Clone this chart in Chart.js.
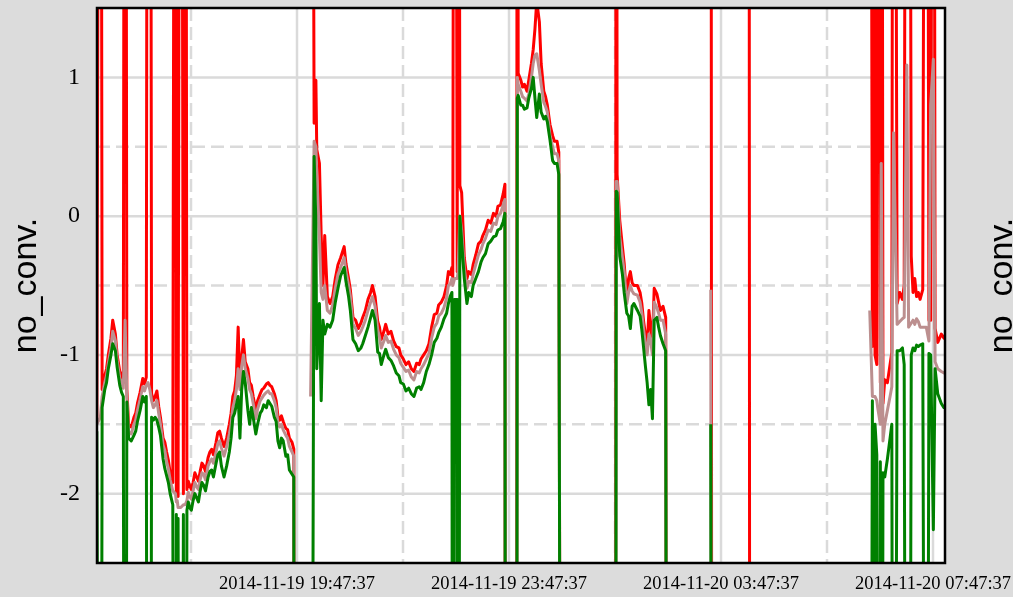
<!DOCTYPE html>
<html><head><meta charset="utf-8">
<script src="https://cdn.jsdelivr.net/npm/chart.js@4/dist/chart.umd.min.js"></script>
<style>html,body{margin:0;padding:0;background:#dcdcdc;overflow:hidden}canvas{display:block}</style>
</head><body>
<canvas id="c" width="1013" height="597"></canvas>
<script>
// minutes since 2014-11-19 16:00:00
const minutes = [
1,5,7,10,12,14,17,19,22,24, 27,29,31,33,35,37,40,43,45,47, 50,53,55,57,59,61,63,65,67,69, 71,73,76,78,80,82,84,87,90,91,
92,93,96,99,101,103,104.5,106,108,110, 112,114,116,118,120,122,124,127,129,131, 133,136,138,140,142,145,148,151,153,155,
157,159,161,163,165,167,169,172,174,176, 178,181,183,186,188,190,193,195,197,199, 202,204,206,208,210,212,215,217,219,222, 224,225,235,
243,247,249,250,253,255,257,259,262,265, 268,271,274,277,281,283,286,288,291,294, 297,300,302,305,308,311,313,316,319,321,
323,326,328,331,334,337,340,343,345,348, 351,354,357,360,363,366,368,371,374,377, 380,383,386,388,391,394,397,399,401,403,
404,406,409,410,412,414,417,420,422,425, 427,430,433,436,438,441,444,447,450,453, 455,458,461,463,464,470,
476,477,478,481,483,485,488,490,493,495, 497,499,502,504,507,509,511,514,517,519, 522,524,527,560,
588,589,590,593,596,598,601,603,605,607, 609,613,616,618,620,622,624,626,628,630, 632,635,637,639,642,645,647,680,
696,697.5,710,739,740.5,760,
850,876,879,880,882,884,885,888,889,891, 893,896,899,901,903,907,910,913,915,918, 920,923,925,927,929,931,933,936,940,943, 945,948,950,953,957,960,962
];
const upper = [
-1.48,9,-1.25,-1.15,-1.10,-1.00,-0.88,-0.75,-0.85,-1.00, -1.12,-1.14,-1.20,9,-1.25,-1.50,-1.52,-1.45,-1.42,-1.35, -1.27,-1.17,-1.21,-1.16,9,9,-1.28,-1.33,-1.30,-1.26, -1.37,-1.45,-1.60,-1.63,-1.70,-1.76,-1.85,-1.92,9,-2.00,
9,-2.02,9,-2.00,9,-1.97,-1.91,-1.94,-1.97,-1.92, -1.85,-1.88,-1.91,-1.84,-1.78,-1.80,-1.84,-1.74,-1.70,-1.68, -1.72,-1.63,-1.56,-1.55,-1.60,-1.66,-1.60,-1.50,-1.42,-1.30,
-1.26,-1.15,-0.80,-1.20,-1.02,-0.89,-1.05,-1.10,-1.20,-1.22, -1.30,-1.40,-1.33,-1.28,-1.25,-1.24,-1.21,-1.20,-1.22,-1.23, -1.28,-1.33,-1.44,-1.47,-1.44,-1.48,-1.53,-1.54,-1.60,-1.63, -1.68,-9,null,
9,0.67,0.98,0.48,0.38,-0.14,-0.50,-0.14,-0.58,-0.63, -0.58,-0.45,-0.35,-0.30,-0.22,-0.34,-0.45,-0.53,-0.73,-0.75, -0.81,-0.77,-0.73,-0.68,-0.60,-0.55,-0.50,-0.58,-0.76,-0.80,
-0.89,-0.83,-0.78,-0.85,-0.83,-0.90,-0.94,-0.95,-1.00,-1.03, -1.07,-1.05,-1.10,-1.12,-1.06,-1.07,-1.03,-1.00,-0.97,-0.92, -0.80,-0.71,-0.70,-0.64,-0.62,-0.58,-0.50,-0.40,-0.42,-0.37,
-0.45,9,-0.40,9,0.22,0.17,-0.30,-0.45,-0.40,-0.42, -0.35,-0.28,-0.20,-0.18,-0.14,-0.10,-0.03,-0.05,0.02,0.00, 0.07,0.08,0.16,0.23,-9,null,
-9,9,1.03,0.98,0.93,0.95,0.90,0.98,1.10,1.20, 1.35,1.55,1.40,1.10,0.90,0.86,0.80,0.66,0.58,0.54, 0.54,0.46,-9,null,
-9,9,0.30,-0.03,-0.22,-0.34,-0.60,-0.45,-0.40,-0.48, -0.50,-0.50,-0.55,-0.63,-0.76,-0.85,-0.96,-0.68,-0.80,-0.90, -0.52,-0.56,-0.62,-0.68,-0.65,-0.73,-9,null,
9,-9,null,9,-9,null,
null,9,-0.94,9,-1.00,-1.07,9,-1.20,9,-1.35, -1.18,-1.20,-1.07,-0.98,9,-0.63,-0.55,-0.60,-0.50,9, 9,-0.29,-0.55,-0.45,-0.58,-0.55,-0.60,-0.53,9,-0.75, -0.75,9,-0.81,-0.91,-0.85,-0.88,-0.85
];
const middle = [
-1.50,-1.45,-1.30,-1.20,-1.15,-1.06,-0.95,-0.83,-0.90,-1.04, -1.17,-1.19,-1.24,-0.75,-1.30,-1.55,-1.57,-1.50,-1.47,-1.40, -1.32,-1.23,-1.26,-1.22,-1.20,-1.25,-1.33,-1.38,-1.36,-1.33, -1.42,-1.50,-1.65,-1.69,-1.77,-1.82,-1.90,-1.98,-2.00,-2.06,
-2.05,-2.10,-2.10,-2.08,-2.08,-2.05,-1.99,-2.02,-2.04,-1.98, -1.92,-1.95,-1.97,-1.90,-1.85,-1.86,-1.90,-1.80,-1.77,-1.75, -1.78,-1.70,-1.64,-1.62,-1.67,-1.73,-1.66,-1.57,-1.50,-1.38,
-1.33,-1.25,-1.10,-1.25,-1.08,-1.00,-1.10,-1.17,-1.25,-1.28, -1.35,-1.46,-1.39,-1.33,-1.31,-1.29,-1.27,-1.26,-1.28,-1.28, -1.33,-1.38,-1.49,-1.52,-1.50,-1.54,-1.58,-1.60,-1.66,-1.70, -1.73,-9,null,
-1.30,0.54,0.50,0.30,-0.15,-0.55,-0.60,-0.50,-0.68,-0.70, -0.64,-0.52,-0.42,-0.37,-0.30,-0.40,-0.50,-0.58,-0.78,-0.81, -0.86,-0.83,-0.80,-0.75,-0.68,-0.62,-0.58,-0.65,-0.82,-0.87,
-0.95,-0.90,-0.86,-0.91,-0.90,-0.96,-1.00,-1.02,-1.06,-1.09, -1.12,-1.11,-1.16,-1.18,-1.12,-1.13,-1.10,-1.07,-1.03,-0.99, -0.88,-0.80,-0.77,-0.72,-0.70,-0.66,-0.59,-0.50,-0.49,-0.45,
-0.50,-0.45,-0.45,-0.40,0.00,-0.10,-0.38,-0.52,-0.47,-0.48, -0.42,-0.35,-0.28,-0.24,-0.20,-0.16,-0.10,-0.11,-0.05,-0.06, 0.00,0.02,0.08,0.12,-9,null,
-9,1.00,0.95,0.90,0.86,0.85,0.83,0.88,1.00,1.10, 1.16,1.17,1.05,0.95,0.82,0.79,0.75,0.58,0.50,0.45, 0.45,0.40,-9,null,
-9,0.25,0.25,-0.15,-0.30,-0.40,-0.63,-0.55,-0.50,-0.54, -0.56,-0.57,-0.62,-0.70,-0.82,-0.92,-1.00,-0.85,-0.90,-1.00, -0.62,-0.66,-0.70,-0.75,-0.75,-0.85,-9,null,
-0.53,-9,null,null,null,null,
null,-0.68,-1.30,-1.30,-1.30,-1.33,-1.38,-1.50,0.38,-1.62, -1.50,-1.40,-1.30,-1.23,0.60,-0.78,-0.76,-0.74,-0.73,1.09, -0.80,-0.77,-0.75,-0.78,-0.74,-0.76,-0.80,-0.80,-0.80,-0.90, 0.80,1.13,-1.05,-1.10,-1.12,-1.13,-1.13
];
const lower = [
-1.55,-9,-1.38,-1.25,-1.20,-1.10,-1.00,-0.92,-0.97,-1.09, -1.22,-1.27,-1.30,-9,-1.34,-1.60,-1.62,-1.58,-1.55,-1.48, -1.40,-1.30,-1.34,-1.30,-9,-9,-1.45,-1.47,-1.45,-1.47, -1.52,-1.58,-1.75,-1.82,-1.87,-1.92,-2.00,-2.08,-9,-2.15,
-9,-2.18,-9,-2.15,-9,-2.12,-2.06,-2.10,-2.12,-2.05, -2.00,-2.03,-2.06,-1.98,-1.92,-1.94,-1.98,-1.88,-1.84,-1.83, -1.88,-1.78,-1.72,-1.70,-1.80,-1.88,-1.80,-1.70,-1.60,-1.45,
-1.42,-1.36,-1.30,-1.60,-1.25,-1.12,-1.20,-1.40,-1.50,-1.38, -1.45,-1.57,-1.50,-1.42,-1.40,-1.36,-1.38,-1.33,-1.35,-1.37, -1.45,-1.48,-1.62,-1.67,-1.60,-1.62,-1.73,-1.72,-1.83,-1.86, -1.88,-9,null,
-9,0.43,-0.05,-1.10,-0.63,-1.33,-0.75,-0.85,-0.78,-0.80, -0.75,-0.62,-0.52,-0.43,-0.37,-0.47,-0.58,-0.68,-0.89,-0.92, -0.97,-0.95,-0.92,-0.86,-0.80,-0.73,-0.68,-0.75,-0.98,-0.99,
-1.07,-1.00,-0.96,-1.02,-1.04,-1.08,-1.13,-1.15,-1.20,-1.21, -1.26,-1.24,-1.28,-1.30,-1.24,-1.23,-1.25,-1.20,-1.12,-1.07, -1.00,-0.91,-0.88,-0.84,-0.80,-0.74,-0.70,-0.63,-0.58,-0.55,
-9,-0.60,-0.60,-9,0.00,-0.18,-0.45,-0.63,-0.55,-0.58, -0.50,-0.45,-0.40,-0.33,-0.30,-0.27,-0.20,-0.18,-0.15,-0.14, -0.10,-0.09,-0.04,0.02,-9,null,
-9,0.85,0.87,0.80,0.80,0.77,0.78,0.85,0.92,1.00, 0.85,0.71,0.88,0.75,0.70,0.72,0.68,0.55,0.40,0.38, 0.38,0.30,-9,null,
-9,0.18,0.17,-0.29,-0.42,-0.55,-0.70,-0.72,-0.81,-0.65, -0.63,-0.68,-0.72,-0.82,-0.95,-1.08,-1.20,-1.36,-1.25,-1.46, -0.75,-0.73,-0.80,-0.86,-0.92,-0.97,-9,null,
-1.50,-9,null,null,null,null,
null,-9,-1.33,-9,-1.50,-1.72,-9,-1.77,-9,-1.85, -1.88,-1.75,-1.60,-1.50,-9,-0.97,-0.97,-0.95,-1.07,-9, -9,-1.00,-0.95,-0.97,-0.93,-0.94,-0.93,-0.92,-9,-0.99, -1.00,-2.26,-1.10,-1.28,-1.35,-1.38,-1.38
];
const xTickValues = [107.62,227.62,347.62,467.62,587.62,707.62,827.62,947.62];
const xTickLabels = ['','2014-11-19 19:47:37','','2014-11-19 23:47:37','','2014-11-20 03:47:37','','2014-11-20 07:47:37'];
const yTickValues = [-2.5,-2,-1.5,-1,-0.5,0,0.5,1,1.5];
const yTickLabels = ['','-2','','-1','','0','','1',''];
const yTitle = 'no_conv.';

const pts = arr => minutes.map((m,i)=>({x:m,y:arr[i]===undefined?null:arr[i]}));
const mk = (label,arr,color)=>({label,data:pts(arr),borderColor:color,backgroundColor:color,borderWidth:3,pointRadius:0,pointHoverRadius:0,tension:0,spanGaps:false,fill:false,borderJoinStyle:'round'});

const SERIF = '"Liberation Serif","Times New Roman",serif';
const SANS = '"Liberation Sans",Arial,sans-serif';

const deco = {
  id:'deco',
  beforeDraw(chart){
    const {ctx,chartArea:a} = chart;
    ctx.save();
    ctx.fillStyle='#dcdcdc'; ctx.fillRect(0,0,chart.width,chart.height);
    ctx.fillStyle='#ffffff'; ctx.fillRect(a.left,a.top,a.right-a.left,a.bottom-a.top);
    ctx.restore();
  },
  beforeDatasetsDraw(chart){
    const {ctx,chartArea:a,scales:{x,y}} = chart;
    ctx.save();
    ctx.strokeStyle='#dadada'; ctx.lineWidth=2.5;
    yTickValues.forEach((v,i)=>{
      if(v<=y.min||v>=y.max) return;
      const py=y.getPixelForValue(v);
      ctx.setLineDash(yTickLabels[i]?[]:[13,6]);
      ctx.beginPath(); ctx.moveTo(a.left,py); ctx.lineTo(a.right,py); ctx.stroke();
    });
    xTickValues.forEach((v,i)=>{
      if(v<=x.min||v>=x.max) return;
      const px=x.getPixelForValue(v);
      ctx.setLineDash(xTickLabels[i]?[]:[13,6]);
      ctx.beginPath(); ctx.moveTo(px,a.top); ctx.lineTo(px,a.bottom); ctx.stroke();
    });
    ctx.restore();
  },
  afterDatasetsDraw(chart){
    const {ctx,chartArea:a} = chart;
    ctx.save();
    ctx.strokeStyle='#000'; ctx.lineWidth=2.5; ctx.setLineDash([]);
    ctx.strokeRect(a.left,a.top,a.right-a.left,a.bottom-a.top);
    ctx.restore();
  },
  afterDraw(chart){
    const {ctx,chartArea:a} = chart;
    ctx.save();
    ctx.translate(1003,(a.top+a.bottom)/2);
    ctx.rotate(-Math.PI/2);
    ctx.font='34px '+SANS; ctx.fillStyle='#000';
    ctx.textAlign='center'; ctx.textBaseline='middle';
    ctx.fillText(yTitle,0,0);
    ctx.restore();
  }
};

new Chart(document.getElementById('c'),{
  type:'line',
  data:{datasets:[mk('lower',lower,'#008000'),mk('middle',middle,'#bc8f8f'),mk('upper',upper,'#ff0000')]},
  options:{
    responsive:false,animation:false,
    layout:{padding:{left:0,top:8,right:68,bottom:0}},
    plugins:{legend:{display:false},tooltip:{enabled:false}},
    scales:{
      x:{type:'linear',min:1.2,max:961.2,
        grid:{display:false,drawTicks:false},border:{display:false},
        afterBuildTicks:s=>{s.ticks=xTickValues.map(v=>({value:v}));},
        afterFit:s=>{s.height=34;s.paddingLeft=0;s.paddingRight=0;},
        ticks:{autoSkip:false,maxRotation:0,minRotation:0,padding:10,color:'#000',font:{family:SERIF,size:18.5},
          callback:(v,i)=>xTickLabels[i]}},
      y:{type:'linear',min:-2.5,max:1.5,
        grid:{display:false,drawTicks:false},border:{display:false},
        afterBuildTicks:s=>{s.ticks=yTickValues.map(v=>({value:v}));},
        afterFit:s=>{s.width=97;s.paddingTop=0;s.paddingBottom=0;},
        ticks:{autoSkip:false,padding:17,color:'#000',font:{family:SERIF,size:24},
          callback:(v,i)=>yTickLabels[i]},
        title:{display:true,text:yTitle,color:'#000',font:{family:SANS,size:34},padding:{top:6.6,bottom:0}}}
    }
  },
  plugins:[deco]
});
</script>
</body></html>
